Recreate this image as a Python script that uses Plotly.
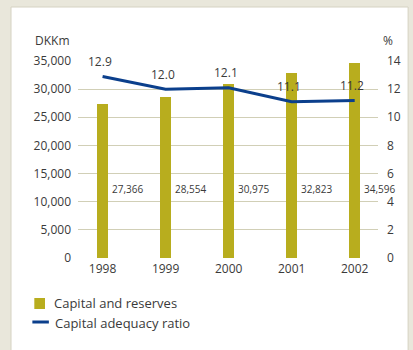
import plotly.graph_objects as go

# Capital figures, 1998-2002
years = [1998, 1999, 2000, 2001, 2002]
capital_reserves = [27366, 28554, 30975, 32823, 34596]   # DKKm
capital_ratio = [12.9, 12.0, 12.1, 11.1, 11.2]           # %

left_ticks = [0, 5000, 10000, 15000, 20000, 25000, 30000, 35000]
right_ticks = [0, 2, 4, 6, 8, 10, 12, 14]

BAR = "#b8ad1e"
LINE = "#0b3f8c"
GRID = "#d1cfb6"
TEXT = "#3a3a3a"
FONT = "Open Sans"

W, H = 413, 350
ML, MR, MT, MB = 78, 26, 61, 92
PW, PH = W - ML - MR, H - MT - MB


def px(x):
    return (x - ML) / PW


def py(y):
    return (H - MB - y) / PH


fig = go.Figure()

fig.add_trace(go.Bar(
    x=years, y=capital_reserves, width=0.17, marker_color=BAR,
    marker_line_width=0, name="Capital and reserves", yaxis="y",
))
fig.add_trace(go.Scatter(
    x=years, y=capital_ratio, mode="lines", line=dict(color=LINE, width=3),
    name="Capital adequacy ratio", yaxis="y2",
))

annotations = []
# bar values, written beside each bar
for yr, v in zip(years, capital_reserves):
    annotations.append(dict(
        x=yr, y=12300, xref="x", yref="y", text=f"{v:,}", showarrow=False,
        xanchor="left", yanchor="middle", xshift=7,
        font=dict(family=FONT, size=10, color=TEXT),
    ))
# ratio values above the line
for yr, v in zip(years, capital_ratio):
    annotations.append(dict(
        x=yr, y=v, xref="x", yref="y2", text=f"{v:.1f}", showarrow=False,
        xanchor="center", yanchor="middle", yshift=15, xshift=-3,
        font=dict(family=FONT, size=12, color=TEXT),
    ))
# axis unit captions
annotations.append(dict(x=px(32), y=py(40), xref="paper", yref="paper",
                        text="DKKm", showarrow=False, xanchor="left", yanchor="middle",
                        font=dict(family=FONT, size=12, color=TEXT)))
annotations.append(dict(x=px(404), y=py(40), xref="paper", yref="paper",
                        text="%", showarrow=False, xanchor="right", yanchor="middle",
                        font=dict(family=FONT, size=12, color=TEXT)))
# legend entries
annotations.append(dict(x=px(51), y=py(303), xref="paper", yref="paper",
                        text="Capital and reserves", showarrow=False, xanchor="left",
                        yanchor="middle", font=dict(family=FONT, size=13, color=TEXT)))
annotations.append(dict(x=px(52), y=py(323), xref="paper", yref="paper",
                        text="Capital adequacy ratio", showarrow=False, xanchor="left",
                        yanchor="middle", font=dict(family=FONT, size=13, color=TEXT)))

shapes = [
    # white panel on the beige page
    dict(type="rect", xref="paper", yref="paper", layer="below",
         x0=px(9), x1=px(W + 5), y0=py(H + 5), y1=py(7),
         fillcolor="white", line=dict(color="#d5d2c2", width=1)),
    # legend keys
    dict(type="rect", xref="paper", yref="paper",
         x0=px(33), x1=px(44), y0=py(309), y1=py(298),
         fillcolor=BAR, line=dict(width=0)),
    dict(type="line", xref="paper", yref="paper",
         x0=px(31), x1=px(48), y0=py(322), y1=py(322),
         line=dict(color=LINE, width=3)),
]

fig.update_layout(
    width=W, height=H,
    margin=dict(l=ML, r=MR, t=MT, b=MB),
    paper_bgcolor="#e9e7db", plot_bgcolor="rgba(0,0,0,0)",
    showlegend=False, bargap=0,
    font=dict(family=FONT, size=12, color=TEXT),
    xaxis=dict(range=[1997.61, 2002.37], tickvals=years, ticktext=[str(y) for y in years],
               showgrid=False, zeroline=False, showline=False, ticks="",
               tickfont=dict(size=12), ticklabelstandoff=2, fixedrange=True),
    yaxis=dict(range=[0, 35000], tickvals=left_ticks,
               ticktext=[f"{t:,}" for t in left_ticks],
               showgrid=True, gridcolor=GRID, gridwidth=1, zeroline=False,
               showline=False, ticks="", tickfont=dict(size=12), ticklabelstandoff=6),
    yaxis2=dict(range=[0, 14], tickvals=right_ticks, overlaying="y", side="right",
                showgrid=False, zeroline=False, showline=False, ticks="",
                tickfont=dict(size=12), ticklabelstandoff=8),
    annotations=annotations,
    shapes=shapes,
)

fig.write_html("out.html")
